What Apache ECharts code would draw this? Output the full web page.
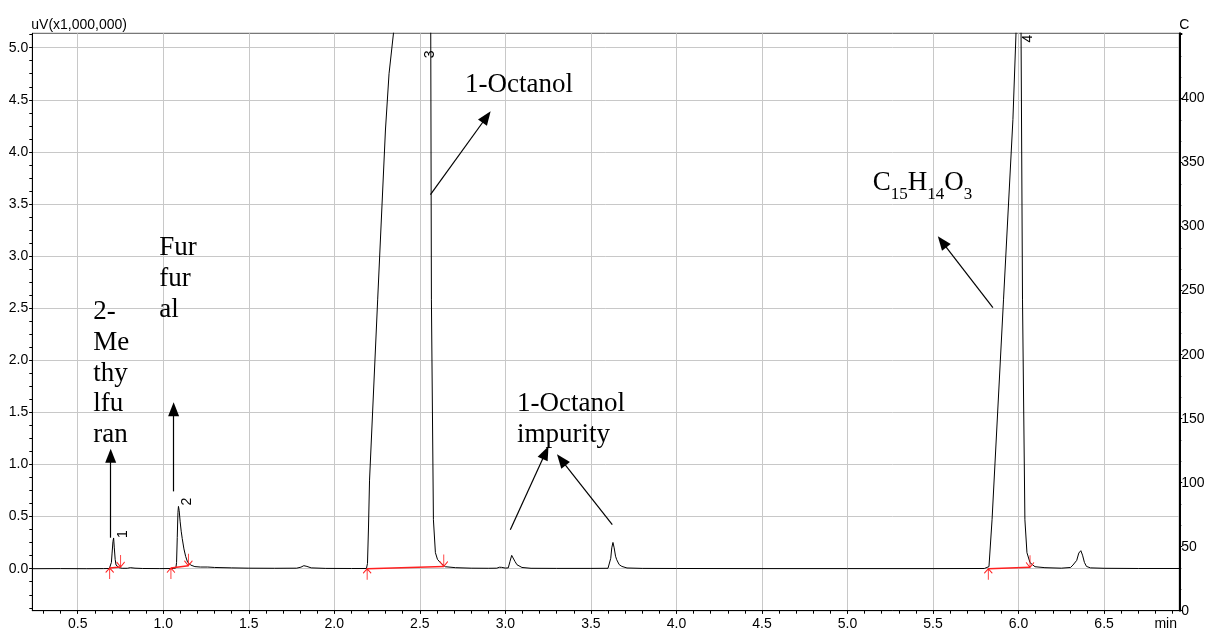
<!DOCTYPE html>
<html><head><meta charset="utf-8">
<script src="https://cdn.jsdelivr.net/npm/echarts@6/dist/echarts.min.js"></script>
<style>html,body{margin:0;padding:0;background:#fff}#c{width:1206px;height:630px}</style>
</head><body><div id="c"></div>
<script>
// ---- data (retention time in min, signal in uV x1,000,000) ----
const timeMin = [0.237,0.400,0.550,0.650,0.685,0.692,0.697,0.701,0.706,0.710,0.714,0.719,0.724,0.731,0.742,0.760,0.790,0.808,0.818,0.835,0.880,0.980,
1.060,1.074,1.078,1.082,1.086,1.089,1.093,1.099,1.105,1.111,1.121,1.131,1.142,1.160,1.185,1.218,1.260,1.300,1.400,1.500,1.650,1.780,1.805,1.822,1.840,1.865,1.950,2.100,
2.188,2.194,2.200,2.206,2.2535,2.299,2.320,2.346,2.370,2.450,2.540,2.5636,2.5677,2.5794,2.591,2.603,2.620,2.649,2.708,2.800,2.900,
2.950,2.965,2.978,3.000,3.017,3.027,3.037,3.045,3.056,3.068,3.097,3.150,3.300,3.500,3.600,
3.608,3.616,3.622,3.629,3.636,3.644,3.651,3.665,3.681,3.711,3.800,4.000,4.500,5.000,5.500,5.800,
5.827,5.845,5.912,5.967,5.985,5.995,6.008,6.014,6.023,6.037,6.049,6.067,6.096,6.154,6.250,
6.304,6.318,6.329,6.340,6.352,6.364,6.374,6.385,6.397,6.420,6.500,6.700,6.940];
const signal = [0.000,0.001,0.000,0.001,0.002,0.015,0.06,0.15,0.26,0.295,0.20,0.09,0.035,0.018,0.010,0.004,0.004,0.010,0.011,0.005,0.002,0.001,
0.002,0.008,0.06,0.30,0.54,0.598,0.56,0.45,0.36,0.29,0.19,0.118,0.065,0.035,0.020,0.016,0.016,0.012,0.008,0.005,0.004,0.005,0.015,0.029,0.022,0.008,0.003,0.002,
0.002,0.05,0.40,0.85,2.58,4.21,4.75,5.14,5.60,6.00,5.80,5.30,2.58,0.47,0.154,0.090,0.058,0.019,0.010,0.005,0.004,
0.005,0.014,0.013,0.006,0.008,0.07,0.128,0.11,0.07,0.038,0.012,0.004,0.003,0.003,0.004,
0.007,0.10,0.20,0.252,0.20,0.12,0.086,0.040,0.022,0.007,0.003,0.002,0.001,0.001,0.001,0.002,
0.02,0.47,2.58,4.31,5.14,5.60,5.60,5.30,2.58,0.47,0.154,0.058,0.019,0.010,0.005,
0.012,0.035,0.050,0.080,0.150,0.173,0.130,0.060,0.022,0.008,0.004,0.002,0.002];

const xTickValues = [0.5,1.0,1.5,2.0,2.5,3.0,3.5,4.0,4.5,5.0,5.5,6.0,6.5];
const xTickLabels = ['0.5','1.0','1.5','2.0','2.5','3.0','3.5','4.0','4.5','5.0','5.5','6.0','6.5'];
const xUnitLabel = 'min';
const yTickValues = [0.0,0.5,1.0,1.5,2.0,2.5,3.0,3.5,4.0,4.5,5.0];
const yTickLabels = ['0.0','0.5','1.0','1.5','2.0','2.5','3.0','3.5','4.0','4.5','5.0'];
const rightTickValues = [0,50,100,150,200,250,300,350,400];
const rightTickLabels = ['0','50','100','150','200','250','300','350','400'];

// integrated peaks: numbers and baseline start / end
const peakNumbers = ['1','2','3','4'];
const peakNumT = [0.766,1.137,2.563,6.055];
const peakNumV = [0.331,0.643,4.936,5.088];
const peakStartT = [0.687,1.045,2.192,5.823];
const peakStartV = [0.007,0.006,0.000,0.000];
const peakEndT = [0.751,1.147,2.640,6.067];
const peakEndV = [0.016,0.029,0.022,0.013];

// annotation arrows (from -> to, data coords)
const arrowFromT = [0.6928,1.0607,2.562,3.029,3.625,5.850];
const arrowFromV = [0.2975,0.742,3.589,0.374,0.422,2.505];
const arrowToT = [0.6928,1.0607,2.890,3.235,3.327,5.553];
const arrowToV = [1.084,1.531,4.335,1.114,1.045,3.137];

// annotation texts (top-left anchor, data coords)
const noteTexts = ['2-\nMe\nthy\nlfu\nran','Fur\nfur\nal','1-Octanol','1-Octanol\nimpurity','{m|C}{s|15}{m|H}{s|14}{m|O}{s|3}'];
const noteT = [0.5935,0.979,2.767,3.071,5.150];
const noteV = [2.608,3.220,4.790,1.727,3.829];

// ---- build ----
const X_MIN = 0.2346, X_MAX = 6.9396, Y_MIN = -0.403, Y_MAX = 5.138;
const xLabelValues = xTickValues.concat([6.86]);
const xMinor = []; for (let k = 3; k <= 69; k++) xMinor.push(k / 10);
const yMinor = []; for (let k = -3; k <= 41; k++) yMinor.push(k * 0.125);

const sans = 'Liberation Sans, Arial, sans-serif';
const serif = 'Liberation Serif, Times New Roman, serif';

const traceData = timeMin.map((t, i) => [t, signal[i]]);

const markLines = [];
for (let i = 0; i < peakStartT.length; i++) {
  markLines.push([
    {coord: [peakStartT[i], peakStartV[i]], symbol: 'none', lineStyle: {color: '#ff2020', width: 1.5, type: 'solid'}},
    {coord: [peakEndT[i], peakEndV[i]], symbol: 'none'}
  ]);
}
for (let i = 0; i < arrowFromT.length; i++) {
  markLines.push([
    {coord: [arrowFromT[i], arrowFromV[i]], symbol: 'none', lineStyle: {color: '#000', width: 1.2, type: 'solid'}},
    {coord: [arrowToT[i], arrowToV[i]], symbol: 'triangle', symbolSize: [11, 14]}
  ]);
}

const markPoints = [];
const upArrow = 'path://M4,0L4,12M0,5L4,0L8,5';
const downArrow = 'path://M4,0L4,12M0,7L4,12L8,7';
for (let i = 0; i < peakStartT.length; i++) {
  markPoints.push({coord: [peakStartT[i], peakStartV[i]], symbol: upArrow, symbolSize: [8, 11], symbolOffset: [0, 5.5], symbolKeepAspect: false,
    itemStyle: {color: 'none', borderColor: '#ff2020', borderWidth: 1}, label: {show: false}});
  markPoints.push({coord: [peakEndT[i], peakEndV[i]], symbol: downArrow, symbolSize: [8, 12], symbolOffset: [0, -6], symbolKeepAspect: false,
    itemStyle: {color: 'none', borderColor: '#ff2020', borderWidth: 1}, label: {show: false}});
}
for (let i = 0; i < peakNumbers.length; i++) {
  markPoints.push({coord: [peakNumT[i], peakNumV[i]], symbol: 'rect', symbolSize: 1, itemStyle: {color: 'transparent'},
    label: {show: true, position: 'inside', formatter: peakNumbers[i], rotate: 90, color: '#000', fontSize: 14, fontFamily: sans, align: 'center', verticalAlign: 'middle'}});
}
for (let i = 0; i < noteTexts.length; i++) {
  markPoints.push({coord: [noteT[i], noteV[i]], symbol: 'rect', symbolSize: 1, itemStyle: {color: 'transparent'},
    label: {show: true, position: [0, 0], align: 'left', verticalAlign: 'top', formatter: noteTexts[i], color: '#000',
      fontSize: 27, lineHeight: 30.8, fontFamily: serif,
      rich: {
        m: {fontSize: 27, fontFamily: serif, lineHeight: 30, verticalAlign: 'top', color: '#000'},
        s: {fontSize: 17, fontFamily: serif, lineHeight: 17, padding: [17, 0, 0, 0], verticalAlign: 'top', color: '#000'}
      }}});
}

const chart = echarts.init(document.getElementById('c'), null, {renderer: 'canvas'});
chart.setOption({
  animation: false,
  backgroundColor: '#fff',
  grid: {left: 32.3, right: 26.7, top: 33.3, bottom: 19.3, show: true, borderColor: '#555', borderWidth: 1,
    backgroundColor: 'transparent', containLabel: false, outerBoundsMode: 'none'},
  xAxis: [{
    type: 'value', min: X_MIN, max: X_MAX, position: 'bottom',
    axisLine: {show: true, onZero: false, lineStyle: {color: '#000', width: 1}},
    axisTick: {show: true, customValues: xTickValues, length: 3, lineStyle: {color: '#000'}},
    axisLabel: {show: true, customValues: xLabelValues, color: '#000', fontSize: 14, fontFamily: sans, margin: 6,
      formatter: function (v) {
        const i = xTickValues.findIndex(x => Math.abs(x - v) < 1e-6);
        return i >= 0 ? xTickLabels[i] : xUnitLabel;
      }},
    splitLine: {show: true, lineStyle: {color: '#c8c8c8', width: 1}}
  }, {
    type: 'value', min: X_MIN, max: X_MAX, position: 'bottom', gridIndex: 0,
    axisLine: {show: false, onZero: false}, axisLabel: {show: false}, splitLine: {show: false},
    axisTick: {show: true, customValues: xMinor, length: 3, lineStyle: {color: '#000'}}
  }],
  yAxis: [{
    type: 'value', min: Y_MIN, max: Y_MAX, position: 'left',
    name: 'uV(x1,000,000)', nameLocation: 'end', nameGap: 1,
    nameTextStyle: {align: 'left', color: '#000', fontSize: 14, fontFamily: sans, padding: [0, 0, 0, -1]},
    axisLine: {show: true, onZero: false, lineStyle: {color: '#000', width: 1}},
    axisTick: {show: true, customValues: yTickValues, length: 3, lineStyle: {color: '#000'}},
    axisLabel: {show: true, customValues: yTickValues, color: '#000', fontSize: 14, fontFamily: sans, margin: 4,
      formatter: function (v) {
        const i = yTickValues.findIndex(x => Math.abs(x - v) < 1e-6);
        return i >= 0 ? yTickLabels[i] : '';
      }},
    splitLine: {show: true, lineStyle: {color: '#c8c8c8', width: 1}}
  }, {
    type: 'value', min: Y_MIN, max: Y_MAX, position: 'left', gridIndex: 0,
    axisLine: {show: false, onZero: false}, axisLabel: {show: false}, splitLine: {show: false},
    axisTick: {show: true, customValues: yMinor, length: 3, lineStyle: {color: '#000'}}
  }, {
    type: 'value', min: 0, max: 451, interval: 50, position: 'right', gridIndex: 0,
    name: 'C', nameLocation: 'end', nameGap: 1,
    nameTextStyle: {align: 'left', color: '#000', fontSize: 14, fontFamily: sans},
    axisLine: {show: true, onZero: false, lineStyle: {color: '#000', width: 2}},
    axisTick: {show: true, length: 3, lineStyle: {color: '#000'}},
    minorTick: {show: true, splitNumber: 3, length: 2, lineStyle: {color: '#000'}},
    axisLabel: {show: true, customValues: rightTickValues, color: '#000', fontSize: 14, fontFamily: sans, margin: 2,
      formatter: function (v) {
        const i = rightTickValues.findIndex(x => Math.abs(x - v) < 1e-6);
        return i >= 0 ? rightTickLabels[i] : '';
      }},
    splitLine: {show: false}
  }],
  series: [{
    type: 'line', xAxisIndex: 0, yAxisIndex: 0, data: traceData,
    showSymbol: false, symbol: 'none', clip: true, silent: true,
    lineStyle: {color: '#000', width: 1},
    markLine: {silent: true, animation: false, symbol: ['none', 'none'], label: {show: false}, emphasis: {disabled: true}, data: markLines},
    markPoint: {silent: true, animation: false, emphasis: {disabled: true}, data: markPoints}
  }]
});
</script></body></html>
